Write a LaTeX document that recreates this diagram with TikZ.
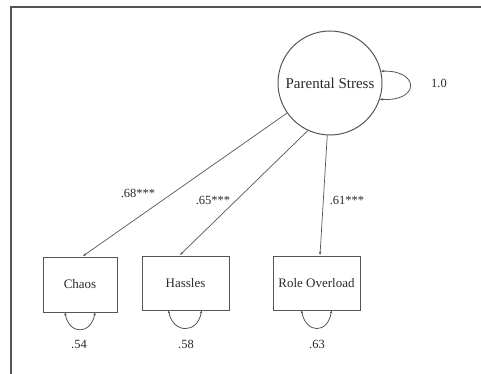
\documentclass[tikz,border=0pt]{standalone}
\usepackage{fontspec}
\setmainfont{Liberation Serif}
\usetikzlibrary{arrows.meta}
\definecolor{ln}{HTML}{555555}
\definecolor{tx}{HTML}{2A2A2A}
\begin{document}
\begin{tikzpicture}[x=1pt,y=-1pt,
  obs/.style={draw=ln,line width=1pt,minimum width=87pt,minimum height=54pt,inner sep=0pt,text=tx,font=\fontsize{13}{15}\selectfont},
  lat/.style={draw=ln,line width=1pt,circle,minimum size=104pt,inner sep=0pt,text=tx,font=\fontsize{15}{17}\selectfont},
  lbl/.style={text=tx,font=\fontsize{12.5}{14}\selectfont,inner sep=0pt},
  path/.style={draw=ln,line width=0.7pt,-{Stealth[length=3.5pt,width=2.5pt]}},
  var/.style={draw=ln,line width=0.8pt,{Stealth[length=3pt,width=2.5pt]}-{Stealth[length=3pt,width=2.5pt]}}]
\useasboundingbox (0,0) rectangle (481,374);
\fill[white] (0,0) rectangle (481,374);
\draw[ln,line width=1.6pt] (481,7) -- (11,7) -- (11,374);
\node[lat] (ps) at (330,83) {Parental Stress};
\node[obs,minimum width=74pt,minimum height=55pt] (chaos) at (80,284.5) {Chaos};
\node[obs] (hassles) at (185.5,283) {Hassles};
\node[obs] (role) at (316.5,283) {Role Overload};
\coordinate (tc) at (83,256);
\coordinate (th) at (180,255);
\coordinate (tr) at (320,255);
\draw[path] (ps.-145) -- (tc);
\draw[path] (ps.-115) -- (th);
\draw[path] (ps.-93) -- (tr);
\draw[var] (ps.13) .. controls (420,70) and (420,102) .. (ps.-18);
\node[lbl] (l1) at (439,83) {1.0};
\node[lbl] (l68) at (138,193) {.68***};
\node[lbl] (l65) at (213,200) {.65***};
\node[lbl] (l61) at (347,200) {.61***};
\draw[var] ([xshift=-15pt]chaos.south) .. controls (69,335) and (91,335) .. ([xshift=15pt]chaos.south);
\draw[var] ([xshift=-17pt]hassles.south) .. controls (173,334) and (198,334) .. ([xshift=16pt]hassles.south);
\draw[var] ([xshift=-15pt]role.south) .. controls (306,334) and (328,334) .. ([xshift=15pt]role.south);
\node[lbl] (e1) at (79,344) {.54};
\node[lbl] (e2) at (186,344) {.58};
\node[lbl] (e3) at (317,344) {.63};
\end{tikzpicture}
\end{document}
